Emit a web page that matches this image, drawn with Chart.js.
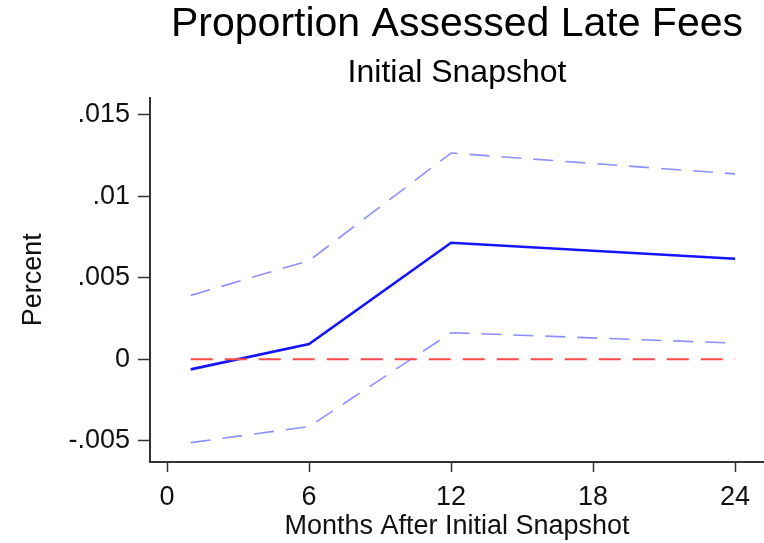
<!DOCTYPE html>
<html>
<head>
<meta charset="utf-8">
<script src="https://cdn.jsdelivr.net/npm/chart.js@4"></script>
<style>
    html, body { margin: 0; padding: 0; background: #fff; }
    #lateFeeChart { display: block; }
</style>
</head>
<body>
<canvas id="lateFeeChart" width="764" height="543"></canvas>
<script>
// 데이터
const months = [1, 6, 12, 24];
const estimate = [-0.00062, 0.00093, 0.00715, 0.00617];
const upperCI = [0.00392, 0.00605, 0.01265, 0.01137];
const lowerCI = [-0.00511, -0.00413, 0.00163, 0.00099];
const zeroLine = [0, 0];
const zeroMonths = [1, 24];

const xTicks = [0, 6, 12, 18, 24];
const yTicks = [-0.005, 0, 0.005, 0.01, 0.015];
const yTickLabels = ['-.005', '0', '.005', '.01', '.015'];

const FONT = "'Liberation Sans', Arial, Helvetica, sans-serif";

function toPoints(xs, ys) {
    return xs.map((x, i) => ({x: x, y: ys[i]}));
}

document.addEventListener("DOMContentLoaded", () => {
    initializeChart();
});

function initializeChart() {
    const ctx = document.getElementById('lateFeeChart').getContext('2d');
    new Chart(ctx, {
        type: 'line',
        data: {
            datasets: [
                {
                    label: 'zero',
                    data: toPoints(zeroMonths, zeroLine),
                    borderColor: '#ff4a4a',
                    borderWidth: 2,
                    borderDash: [22, 12]
                },
                {
                    label: 'upper',
                    data: toPoints(months, upperCI),
                    borderColor: '#8f8fff',
                    borderWidth: 1.6,
                    borderDash: [20, 12]
                },
                {
                    label: 'lower',
                    data: toPoints(months, lowerCI),
                    borderColor: '#8f8fff',
                    borderWidth: 1.6,
                    borderDash: [20, 12]
                },
                {
                    label: 'estimate',
                    data: toPoints(months, estimate),
                    borderColor: '#1414ff',
                    borderWidth: 2.6
                }
            ]
        },
        options: {
            responsive: false,
            animation: false,
            devicePixelRatio: 1,
            elements: {
                point: {radius: 0},
                line: {tension: 0, fill: false}
            },
            layout: {padding: 0},
            plugins: {
                legend: {display: false},
                tooltip: {enabled: false},
                title: {
                    display: true,
                    fullSize: false,
                    text: 'Proportion Assessed Late Fees',
                    color: '#000',
                    font: {family: FONT, size: 41, weight: 'normal', lineHeight: 1.2},
                    padding: {top: 0, bottom: 0}
                },
                subtitle: {
                    display: true,
                    fullSize: false,
                    text: 'Initial Snapshot',
                    color: '#000',
                    font: {family: FONT, size: 32, weight: 'normal', lineHeight: 1.2},
                    padding: {top: 5, bottom: 5}
                }
            },
            scales: {
                x: {
                    type: 'linear',
                    min: -0.72,
                    max: 25.22,
                    afterBuildTicks: scale => {
                        scale.ticks = xTicks.map(v => ({value: v}));
                    },
                    afterFit: scale => {
                        scale.height = 81;
                    },
                    border: {display: true, color: '#333', width: 2},
                    grid: {drawOnChartArea: false, drawTicks: true, tickLength: 10, color: '#333', tickWidth: 1.5},
                    ticks: {
                        color: '#111',
                        padding: 9,
                        maxRotation: 0,
                        font: {family: FONT, size: 27},
                        callback: v => String(v)
                    },
                    title: {
                        display: true,
                        text: 'Months After Initial Snapshot',
                        color: '#111',
                        font: {family: FONT, size: 27},
                        padding: {top: 0, bottom: 0}
                    }
                },
                y: {
                    type: 'linear',
                    min: -0.0063,
                    max: 0.01605,
                    afterBuildTicks: scale => {
                        scale.ticks = yTicks.map(v => ({value: v}));
                    },
                    afterFit: scale => {
                        scale.width = 150;
                    },
                    border: {display: true, color: '#333', width: 2},
                    grid: {drawOnChartArea: false, drawTicks: true, tickLength: 12, color: '#333', tickWidth: 1.5},
                    ticks: {
                        color: '#111',
                        padding: 8,
                        font: {family: FONT, size: 27},
                        callback: v => {
                            const i = yTicks.findIndex(t => Math.abs(t - v) < 1e-9);
                            return i >= 0 ? yTickLabels[i] : '';
                        }
                    },
                    title: {
                        display: true,
                        text: 'Percent',
                        color: '#111',
                        font: {family: FONT, size: 27},
                        padding: {top: 17, bottom: 0}
                    }
                }
            }
        }
    });
}
</script>
</body>
</html>
